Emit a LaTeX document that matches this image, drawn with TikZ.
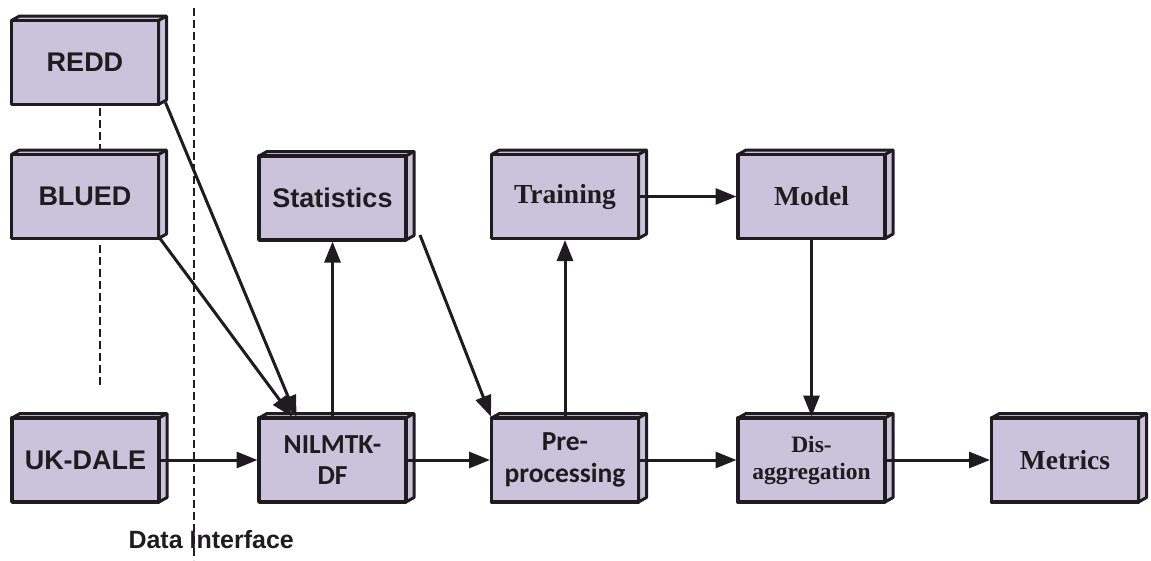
\documentclass[tikz,border=0pt]{standalone}
\usepackage{fontspec}
\usetikzlibrary{arrows.meta}
\newfontfamily\arialfont{Liberation Sans}
\newfontfamily\calfont{Carlito}
\newfontfamily\timesfont{Liberation Serif}
\definecolor{boxfill}{RGB}{203,195,219}
\definecolor{ink}{RGB}{30,28,30}
\pgfdeclarelayer{bg}
\pgfsetlayers{bg,main}

\begin{document}
\begin{tikzpicture}[x=1pt,y=-1pt,
  blk/.style={draw=ink, fill=boxfill, line width=3.4pt, line join=round,
    minimum width=147pt, minimum height=84pt, inner sep=0pt, outer sep=0pt,
    align=center, text=ink},
  sansA/.style={font={\arialfont\bfseries\fontsize{27}{31}\selectfont}},
  sansC/.style={font={\calfont\bfseries\fontsize{27.5}{31.5}\selectfont}},
  serifB/.style={font={\timesfont\bfseries\fontsize{27.5}{31}\selectfont}},
  serifS/.style={font={\timesfont\bfseries\fontsize{23.5}{27}\selectfont}},
  face/.style={draw=ink, fill=boxfill, line width=3pt, line join=round},
  conn/.style={draw=ink, line width=3pt, shorten >=1.5pt,
    -{Triangle[length=21pt,width=16pt]}},
  sep/.style={draw=ink, line width=1.3pt, dash pattern=on 8pt off 4pt}
]
\useasboundingbox (0,0) rectangle (1151,560);

% front faces of the blocks
\node[blk, sansA] (redd)    at (85,62.5)    {REDD};
\node[blk, sansA] (blued)   at (85,196.5)   {BLUED};
\node[blk, sansA] (ukdale)  at (85.5,460)   {UK-DALE};
\node[blk, sansC] (nilm)    at (332.5,460)  {NILMTK-\\DF};
\node[blk, sansA] (stats)   at (332.5,198)  {Statistics};
\node[blk, serifB] (train)  at (565,196.5)  {Training};
\node[blk, serifB] (model)  at (811.5,196.5) {Model};
\node[blk, sansC] (pre)     at (565,460)    {Pre-\\processing};
\node[blk, serifS] (disagg) at (811.5,460)  {Dis-\\aggregation};
\node[blk, serifB] (metrics) at (1065,460)  {Metrics};

% top and side faces giving each block its depth
\begin{pgfonlayer}{bg}
\foreach \n in {redd,blued,ukdale,nilm,stats,train,model,pre,disagg,metrics}{
  \path[face] (\n.north west) -- ([shift={(8,-4.5)}]\n.north west)
    -- ([shift={(8,-4.5)}]\n.north east) -- ([shift={(8,-4.5)}]\n.south east)
    -- (\n.south east) -- (\n.north east) -- cycle;
  \draw[face, fill=none] (\n.north east) -- ([shift={(8,-4.5)}]\n.north east);
}
\end{pgfonlayer}

% data interface separator and helper dashes
\draw[sep] (194,8) -- (194,560);
\draw[sep] (100,108) -- (100,150);
\draw[sep] (100,245) -- (100,385);
\node[anchor=base west, text=ink, font={\arialfont\bfseries\fontsize{25}{30}\selectfont}]
  (di) at (125,548) {Data Interface};

% connectors
\coordinate (reddout) at ([shift={(7,-2)}]redd.south east);
\coordinate (reddin)  at ([xshift=-35.5pt]nilm.north);
\coordinate (bluedout) at ([shift={(1.5,0)}]blued.south east);
\coordinate (bluedin) at ([xshift=-39.5pt]nilm.north);
\coordinate (statsout) at (420,235);

\draw[conn] (reddout) -- (reddin);
\draw[conn] (bluedout) -- (bluedin);
\draw[conn] (ukdale) -- (nilm);
\draw[conn] (nilm) -- (stats);
\draw[conn] (nilm) -- (pre);
\draw[conn] (statsout) -- (pre.north west);
\draw[conn] (pre) -- (train);
\draw[conn] (train) -- (model);
\draw[conn] (model) -- (disagg);
\draw[conn] (pre) -- (disagg);
\draw[conn] (disagg) -- (metrics);
\end{tikzpicture}
\end{document}
